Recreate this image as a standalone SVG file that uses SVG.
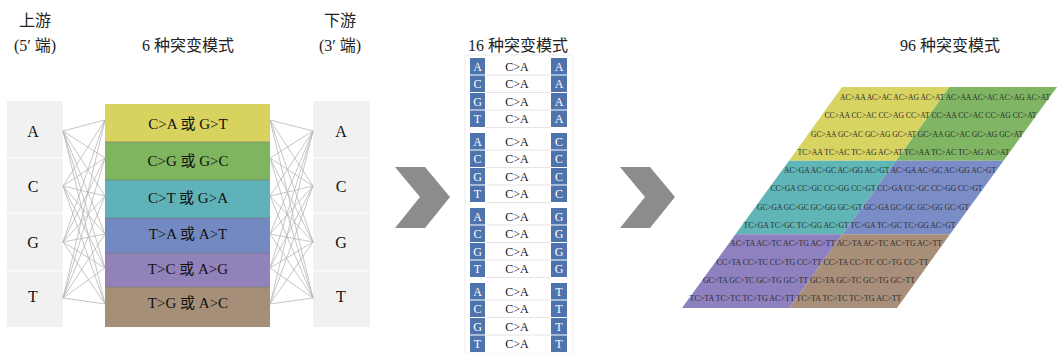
<svg xmlns="http://www.w3.org/2000/svg" width="1059" height="354" viewBox="0 0 1059 354">
<style>
.h{font-family:'Liberation Serif','Noto Sans CJK SC',serif;font-size:16px;fill:#222;text-anchor:middle}
.n{font-family:'Liberation Serif',serif;font-size:16px;fill:#111;text-anchor:middle}
.b{font-family:'Liberation Serif','Noto Sans CJK SC',serif;font-size:15px;fill:#111;text-anchor:middle}
.cell{fill:#4f74ad}
.cl{font-family:'Liberation Serif',serif;font-size:12px;fill:#fff;text-anchor:middle}
.ca{font-family:'Liberation Serif',serif;font-size:12px;fill:#111;text-anchor:middle}
.rt{font-family:'Liberation Serif',serif;font-size:8.5px;fill:#2a2a2a}
.ln{stroke:#b8b8b8;stroke-width:0.8;fill:none}
.chev{fill:#8c8c8c}
</style>
<rect width="1059" height="354" fill="#fff"/>

<g id="headers">
<text class="h" x="35" y="26">上游</text>
<text class="h" x="35" y="51">(5′ 端)</text>
<text class="h" x="188" y="51">6 种突变模式</text>
<text class="h" x="340" y="26">下游</text>
<text class="h" x="340" y="51">(3′ 端)</text>
<text class="h" x="518" y="51">16 种突变模式</text>
<text class="h" x="950" y="51">96 种突变模式</text>
</g>

<g id="upstream">
<rect x="7" y="101" width="56" height="226" fill="#f1f1f1"/>
<line x1="7" y1="158" x2="63" y2="158" stroke="#fff" stroke-width="1"/>
<line x1="7" y1="213" x2="63" y2="213" stroke="#fff" stroke-width="1"/>
<line x1="7" y1="271" x2="63" y2="271" stroke="#fff" stroke-width="1"/>
<text class="n" x="33" y="137">A</text>
<text class="n" x="33" y="192">C</text>
<text class="n" x="33" y="248">G</text>
<text class="n" x="33" y="302">T</text>
</g>

<g id="downstream">
<rect x="313" y="101" width="57" height="226" fill="#f1f1f1"/>
<line x1="313" y1="158" x2="370" y2="158" stroke="#fff" stroke-width="1"/>
<line x1="313" y1="213" x2="370" y2="213" stroke="#fff" stroke-width="1"/>
<line x1="313" y1="271" x2="370" y2="271" stroke="#fff" stroke-width="1"/>
<text class="n" x="341" y="137">A</text>
<text class="n" x="341" y="192">C</text>
<text class="n" x="341" y="248">G</text>
<text class="n" x="341" y="302">T</text>
</g>

<g id="mutations6">
<rect x="105" y="104" width="165" height="38" fill="#d8d35f"/>
<rect x="105" y="142" width="165" height="38" fill="#80b55f"/>
<rect x="105" y="180" width="165" height="38" fill="#5fb3b8"/>
<rect x="105" y="218" width="165" height="35" fill="#7389c1"/>
<rect x="105" y="253" width="165" height="34" fill="#9282ba"/>
<rect x="105" y="287" width="165" height="40" fill="#a68f79"/>
<g stroke="#777" stroke-width="0.6">
<line x1="105" y1="142" x2="270" y2="142"/>
<line x1="105" y1="180" x2="270" y2="180"/>
<line x1="105" y1="218" x2="270" y2="218"/>
<line x1="105" y1="253" x2="270" y2="253"/>
<line x1="105" y1="287" x2="270" y2="287"/>
</g>
<text class="b" x="188" y="129">C&gt;A 或 G&gt;T</text>
<text class="b" x="188" y="166">C&gt;G 或 G&gt;C</text>
<text class="b" x="188" y="203">C&gt;T 或 G&gt;A</text>
<text class="b" x="188" y="239">T&gt;A 或 A&gt;T</text>
<text class="b" x="188" y="274">T&gt;C 或 A&gt;G</text>
<text class="b" x="188" y="308">T&gt;G 或 A&gt;C</text>
</g>

<g id="connectors">
<path class="ln" d="M63,131L105,120M63,131L105,158M63,131L105,196M63,131L105,234M63,131L105,268M63,131L105,304
M63,186L105,120M63,186L105,158M63,186L105,196M63,186L105,234M63,186L105,268M63,186L105,304
M63,242L105,120M63,242L105,158M63,242L105,196M63,242L105,234M63,242L105,268M63,242L105,304
M63,298L105,120M63,298L105,158M63,298L105,196M63,298L105,234M63,298L105,268M63,298L105,304"/>
<path class="ln" d="M270,120L313,131M270,158L313,131M270,196L313,131M270,234L313,131M270,268L313,131M270,304L313,131
M270,120L313,186M270,158L313,186M270,196L313,186M270,234L313,186M270,268L313,186M270,304L313,186
M270,120L313,242M270,158L313,242M270,196L313,242M270,234L313,242M270,268L313,242M270,304L313,242
M270,120L313,298M270,158L313,298M270,196L313,298M270,234L313,298M270,268L313,298M270,304L313,298"/>
<polygon class="chev" points="395,167 425,167 450,197 425,228 395,228 420,197"/>
<polygon class="chev" points="620,167 650,167 675,197 650,228 620,228 645,197"/>
</g>

<g id="mutations16">
<rect x="465" y="55" width="108" height="299" fill="#fff" stroke="#eee" stroke-width="1"/>
<g id="g1">
<rect class="cell" x="470" y="58" width="15" height="16.5"/><rect class="cell" x="551" y="58" width="16" height="16.5"/>
<rect class="cell" x="470" y="75.5" width="15" height="16.5"/><rect class="cell" x="551" y="75.5" width="16" height="16.5"/>
<rect class="cell" x="470" y="93" width="15" height="16.5"/><rect class="cell" x="551" y="93" width="16" height="16.5"/>
<rect class="cell" x="470" y="110.5" width="15" height="16.5"/><rect class="cell" x="551" y="110.5" width="16" height="16.5"/>
<g stroke="#e4e4e4" stroke-width="1"><line x1="486" y1="75" x2="550" y2="75"/><line x1="486" y1="92.5" x2="550" y2="92.5"/><line x1="486" y1="110" x2="550" y2="110"/><line x1="486" y1="127.5" x2="550" y2="127.5"/></g>
<text class="cl" x="477.5" y="70.5">A</text><text class="ca" x="517" y="70.5">C&gt;A</text><text class="cl" x="559" y="70.5">A</text>
<text class="cl" x="477.5" y="88">C</text><text class="ca" x="517" y="88">C&gt;A</text><text class="cl" x="559" y="88">A</text>
<text class="cl" x="477.5" y="105.5">G</text><text class="ca" x="517" y="105.5">C&gt;A</text><text class="cl" x="559" y="105.5">A</text>
<text class="cl" x="477.5" y="123">T</text><text class="ca" x="517" y="123">C&gt;A</text><text class="cl" x="559" y="123">A</text>
</g>
<g id="g2" transform="translate(0,75)">
<rect class="cell" x="470" y="58" width="15" height="16.5"/><rect class="cell" x="551" y="58" width="16" height="16.5"/>
<rect class="cell" x="470" y="75.5" width="15" height="16.5"/><rect class="cell" x="551" y="75.5" width="16" height="16.5"/>
<rect class="cell" x="470" y="93" width="15" height="16.5"/><rect class="cell" x="551" y="93" width="16" height="16.5"/>
<rect class="cell" x="470" y="110.5" width="15" height="16.5"/><rect class="cell" x="551" y="110.5" width="16" height="16.5"/>
<g stroke="#e4e4e4" stroke-width="1"><line x1="486" y1="75" x2="550" y2="75"/><line x1="486" y1="92.5" x2="550" y2="92.5"/><line x1="486" y1="110" x2="550" y2="110"/><line x1="486" y1="127.5" x2="550" y2="127.5"/></g>
<text class="cl" x="477.5" y="70.5">A</text><text class="ca" x="517" y="70.5">C&gt;A</text><text class="cl" x="559" y="70.5">C</text>
<text class="cl" x="477.5" y="88">C</text><text class="ca" x="517" y="88">C&gt;A</text><text class="cl" x="559" y="88">C</text>
<text class="cl" x="477.5" y="105.5">G</text><text class="ca" x="517" y="105.5">C&gt;A</text><text class="cl" x="559" y="105.5">C</text>
<text class="cl" x="477.5" y="123">T</text><text class="ca" x="517" y="123">C&gt;A</text><text class="cl" x="559" y="123">C</text>
</g>
<g id="g3" transform="translate(0,150)">
<rect class="cell" x="470" y="58" width="15" height="16.5"/><rect class="cell" x="551" y="58" width="16" height="16.5"/>
<rect class="cell" x="470" y="75.5" width="15" height="16.5"/><rect class="cell" x="551" y="75.5" width="16" height="16.5"/>
<rect class="cell" x="470" y="93" width="15" height="16.5"/><rect class="cell" x="551" y="93" width="16" height="16.5"/>
<rect class="cell" x="470" y="110.5" width="15" height="16.5"/><rect class="cell" x="551" y="110.5" width="16" height="16.5"/>
<g stroke="#e4e4e4" stroke-width="1"><line x1="486" y1="75" x2="550" y2="75"/><line x1="486" y1="92.5" x2="550" y2="92.5"/><line x1="486" y1="110" x2="550" y2="110"/><line x1="486" y1="127.5" x2="550" y2="127.5"/></g>
<text class="cl" x="477.5" y="70.5">A</text><text class="ca" x="517" y="70.5">C&gt;A</text><text class="cl" x="559" y="70.5">G</text>
<text class="cl" x="477.5" y="88">C</text><text class="ca" x="517" y="88">C&gt;A</text><text class="cl" x="559" y="88">G</text>
<text class="cl" x="477.5" y="105.5">G</text><text class="ca" x="517" y="105.5">C&gt;A</text><text class="cl" x="559" y="105.5">G</text>
<text class="cl" x="477.5" y="123">T</text><text class="ca" x="517" y="123">C&gt;A</text><text class="cl" x="559" y="123">G</text>
</g>
<g id="g4" transform="translate(0,225)">
<rect class="cell" x="470" y="58" width="15" height="16.5"/><rect class="cell" x="551" y="58" width="16" height="16.5"/>
<rect class="cell" x="470" y="75.5" width="15" height="16.5"/><rect class="cell" x="551" y="75.5" width="16" height="16.5"/>
<rect class="cell" x="470" y="93" width="15" height="16.5"/><rect class="cell" x="551" y="93" width="16" height="16.5"/>
<rect class="cell" x="470" y="110.5" width="15" height="16.5"/><rect class="cell" x="551" y="110.5" width="16" height="16.5"/>
<g stroke="#e4e4e4" stroke-width="1"><line x1="486" y1="75" x2="550" y2="75"/><line x1="486" y1="92.5" x2="550" y2="92.5"/><line x1="486" y1="110" x2="550" y2="110"/></g>
<text class="cl" x="477.5" y="70.5">A</text><text class="ca" x="517" y="70.5">C&gt;A</text><text class="cl" x="559" y="70.5">T</text>
<text class="cl" x="477.5" y="88">C</text><text class="ca" x="517" y="88">C&gt;A</text><text class="cl" x="559" y="88">T</text>
<text class="cl" x="477.5" y="105.5">G</text><text class="ca" x="517" y="105.5">C&gt;A</text><text class="cl" x="559" y="105.5">T</text>
<text class="cl" x="477.5" y="123">T</text><text class="ca" x="517" y="123">C&gt;A</text><text class="cl" x="559" y="123">T</text>
</g>
</g>

<g id="mutations96">
<polygon points="842,87 949.5,87 896,160.7 789,160.7" fill="#d8d462"/>
<polygon points="949.5,87 1057,87 1003.5,160.7 896,160.7" fill="#7fb563"/>
<polygon points="789,160.7 896,160.7 842.5,234.3 735.5,234.3" fill="#60b5b6"/>
<polygon points="896,160.7 1003.5,160.7 950,234.3 842.5,234.3" fill="#7b8dc6"/>
<polygon points="735.5,234.3 842.5,234.3 789.5,308 682,308" fill="#8f81bf"/>
<polygon points="842.5,234.3 950,234.3 897,308 789.5,308" fill="#a88f79"/>
<text class="rt" x="840" y="100" textLength="210" lengthAdjust="spacingAndGlyphs">AC&gt;AA AC&gt;AC AC&gt;AG AC&gt;AT AC&gt;AA AC&gt;AC AC&gt;AG AC&gt;AT</text>
<text class="rt" x="824.5" y="118.3" textLength="212" lengthAdjust="spacingAndGlyphs">CC&gt;AA CC&gt;AC CC&gt;AG CC&gt;AT CC&gt;AA CC&gt;AC CC&gt;AG CC&gt;AT</text>
<text class="rt" x="811" y="136.5" textLength="212" lengthAdjust="spacingAndGlyphs">GC&gt;AA GC&gt;AC GC&gt;AG GC&gt;AT GC&gt;AA GC&gt;AC GC&gt;AG GC&gt;AT</text>
<text class="rt" x="797.5" y="154.8" textLength="212" lengthAdjust="spacingAndGlyphs">TC&gt;AA TC&gt;AC TC&gt;AG AC&gt;AT TC&gt;AA TC&gt;AC TC&gt;AG AC&gt;AT</text>
<text class="rt" x="784" y="173.1" textLength="212" lengthAdjust="spacingAndGlyphs">AC&gt;GA AC&gt;GC AC&gt;GG AC&gt;GT AC&gt;GA AC&gt;GC AC&gt;GG AC&gt;GT</text>
<text class="rt" x="770.5" y="191.4" textLength="212" lengthAdjust="spacingAndGlyphs">CC&gt;GA CC&gt;GC CC&gt;GG CC&gt;GT CC&gt;GA CC&gt;GC CC&gt;GG CC&gt;GT</text>
<text class="rt" x="757" y="209.6" textLength="212" lengthAdjust="spacingAndGlyphs">GC&gt;GA GC&gt;GC GC&gt;GG GC&gt;GT GC&gt;GA GC&gt;GC GC&gt;GG GC&gt;GT</text>
<text class="rt" x="743.5" y="227.9" textLength="212" lengthAdjust="spacingAndGlyphs">TC&gt;GA TC&gt;GC TC&gt;GG AC&gt;GT TC&gt;GA TC&gt;GC TC&gt;GG AC&gt;GT</text>
<text class="rt" x="730" y="246.2" textLength="212" lengthAdjust="spacingAndGlyphs">AC&gt;TA AC&gt;TC AC&gt;TG AC&gt;TT AC&gt;TA AC&gt;TC AC&gt;TG AC&gt;TT</text>
<text class="rt" x="716.5" y="264.5" textLength="212" lengthAdjust="spacingAndGlyphs">CC&gt;TA CC&gt;TC CC&gt;TG CC&gt;TT CC&gt;TA CC&gt;TC CC&gt;TG CC&gt;TT</text>
<text class="rt" x="703" y="282.7" textLength="212" lengthAdjust="spacingAndGlyphs">GC&gt;TA GC&gt;TC GC&gt;TG GC&gt;TT GC&gt;TA GC&gt;TC GC&gt;TG GC&gt;TT</text>
<text class="rt" x="689.5" y="301" textLength="212" lengthAdjust="spacingAndGlyphs">TC&gt;TA TC&gt;TC TC&gt;TG AC&gt;TT TC&gt;TA TC&gt;TC TC&gt;TG AC&gt;TT</text>
</g>
</svg>
